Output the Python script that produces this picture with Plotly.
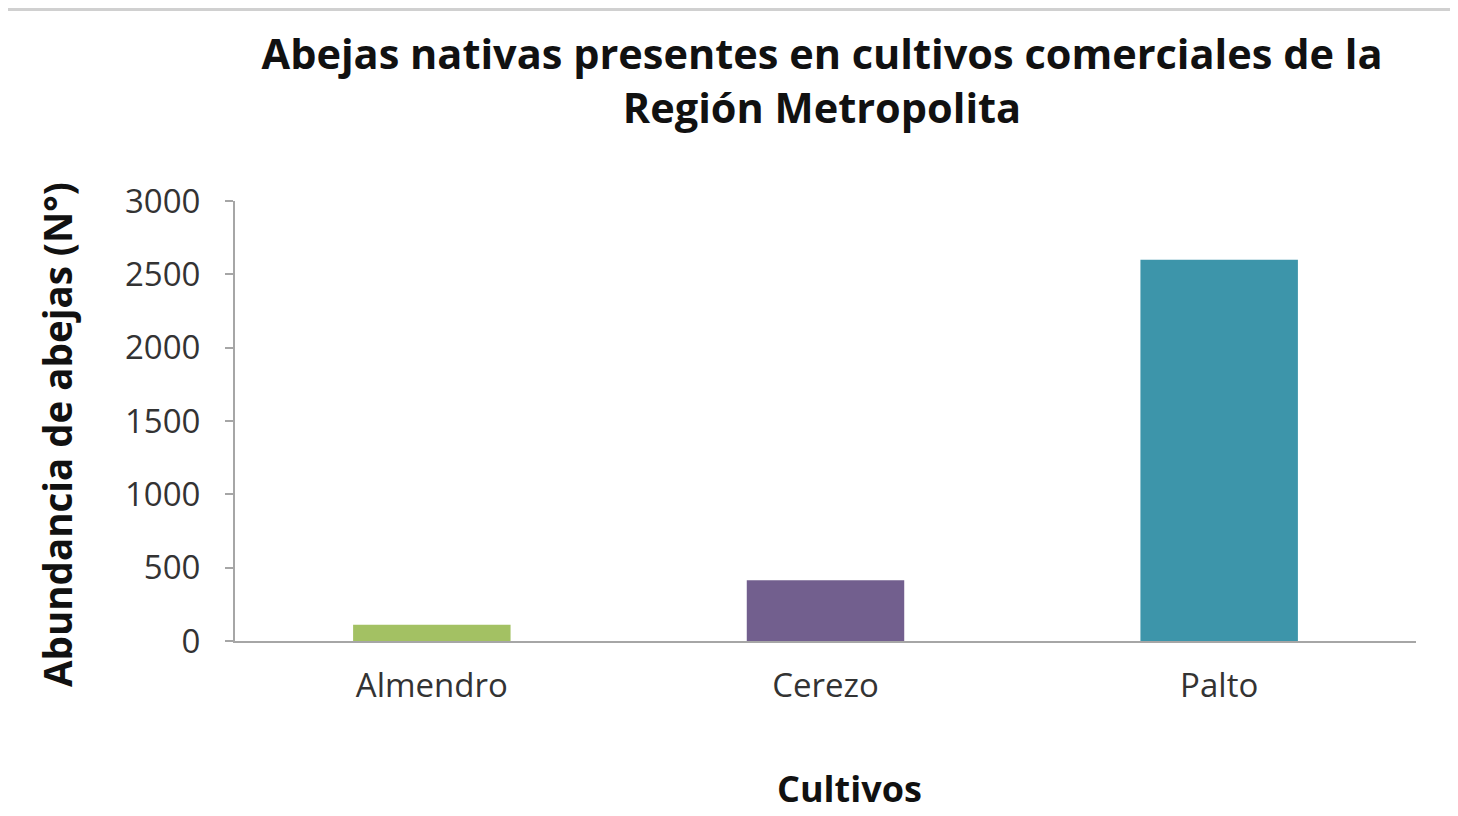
import plotly.graph_objects as go

categories = ["Almendro", "Cerezo", "Palto"]
values = [110, 415, 2600]
colors = ["#a3c163", "#725f8e", "#3d95aa"]
tick_vals = [0, 500, 1000, 1500, 2000, 2500, 3000]

W, H = 1450, 808  # page body adds ~8px offset
L, R, T, B = 227, 42, 193, 175
PW, PH = W - L - R, H - T - B

fig = go.Figure(go.Bar(x=categories, y=values, marker=dict(color=colors, line=dict(width=0)),
                       hoverinfo="x+y"))

font_family = "Open Sans"
fig.update_layout(
    width=W, height=H,
    margin=dict(l=L, r=R, t=T, b=B),
    paper_bgcolor="white", plot_bgcolor="white",
    bargap=0.6,
    showlegend=False,
    title=dict(
        text="<b>Abejas nativas presentes en cultivos comerciales de la<br>Región Metropolita</b>",
        x=(822 - 8) / W, xref="container", xanchor="center",
        y=1 - (69 - 8) / H, yanchor="middle",
        font=dict(family=font_family, size=41.5, color="#111111"),
    ),
    font=dict(family=font_family, color="#333333"),
)

fig.update_xaxes(
    showline=True, linecolor="#a6a6a6", linewidth=2,
    ticks="", tickfont=dict(size=33, color="#333333"), ticklabelstandoff=14,
    showgrid=False, zeroline=False,
)
fig.update_yaxes(
    range=[0, 3000], tickvals=tick_vals,
    showline=True, linecolor="#a6a6a6", linewidth=2,
    ticks="outside", ticklen=8, tickwidth=2, tickcolor="#a6a6a6",
    tickfont=dict(size=33, color="#333333"), ticklabelstandoff=18,
    showgrid=False, zeroline=False,
)

# axis titles
fig.add_annotation(text="<b>Abundancia de abejas (N°)</b>", xref="paper", yref="paper",
                   x=(57 - 235) / PW, y=(641 - 435) / PH, xanchor="center", yanchor="middle",
                   textangle=-90, showarrow=False,
                   font=dict(family=font_family, size=38.5, color="#111111"))
fig.add_annotation(text="<b>Cultivos</b>", xref="paper", yref="paper",
                   x=(849 - 235) / PW, y=(641 - 788) / PH, xanchor="center", yanchor="middle",
                   showarrow=False,
                   font=dict(family=font_family, size=36, color="#111111"))

# thin frame line at top (screenshot border)
fig.add_shape(type="line", xref="paper", yref="paper",
              x0=-L / PW, x1=(W - L) / PW,
              y0=(641 - 9.5) / PH, y1=(641 - 9.5) / PH,
              line=dict(color="#d0d0d0", width=3))

fig.write_html("out.html")
